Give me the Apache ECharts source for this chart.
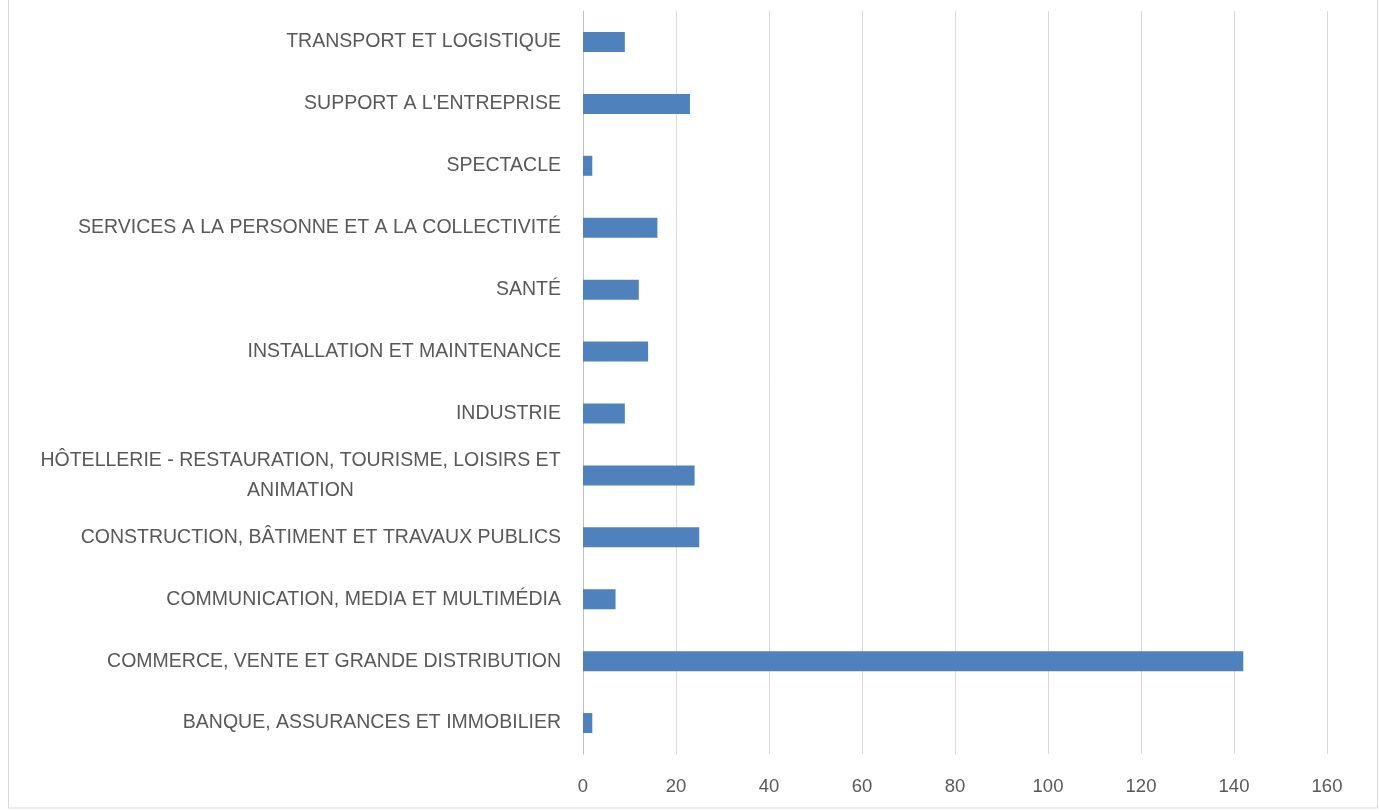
<!DOCTYPE html>
<html>
<head>
<meta charset="utf-8">
<script src="https://cdn.jsdelivr.net/npm/echarts@6/dist/echarts.min.js"></script>
<style>
html, body { margin: 0; padding: 0; background: #fff; }
#chart { width: 1379px; height: 811px; }
</style>
</head>
<body>
<div id="chart"></div>
<script>
// categories, bottom to top as echarts draws them
var categories = [
    'BANQUE, ASSURANCES ET IMMOBILIER',
    'COMMERCE, VENTE ET GRANDE DISTRIBUTION',
    'COMMUNICATION, MEDIA ET MULTIMÉDIA',
    'CONSTRUCTION, BÂTIMENT ET TRAVAUX PUBLICS',
    'HÔTELLERIE - RESTAURATION, TOURISME, LOISIRS ET\nANIMATION',
    'INDUSTRIE',
    'INSTALLATION ET MAINTENANCE',
    'SANTÉ',
    'SERVICES A LA PERSONNE ET A LA COLLECTIVITÉ',
    'SPECTACLE',
    "SUPPORT A L'ENTREPRISE",
    'TRANSPORT ET LOGISTIQUE'
];
var counts = [2, 142, 7, 25, 24, 9, 14, 12, 16, 2, 23, 9];
var xTicks = { min: 0, max: 160, interval: 20 };

var font = '"Liberation Sans", sans-serif';

var myChart = echarts.init(document.getElementById('chart'));
var option = {
    animation: false,
    graphic: [
        {
            type: 'rect',
            shape: { x: 8.5, y: -1, width: 1369, height: 809 },
            style: { fill: 'none', stroke: '#d9d9d9', lineWidth: 1 },
            silent: true
        }
    ],
    grid: {
        left: 583,
        right: 52,
        top: 11,
        bottom: 57
    },
    xAxis: {
        type: 'value',
        min: xTicks.min,
        max: xTicks.max,
        interval: xTicks.interval,
        axisLine: { show: false },
        axisTick: { show: false },
        splitLine: { lineStyle: { color: '#d9d9d9', width: 1 } },
        axisLabel: {
            color: '#595959',
            fontFamily: font,
            fontSize: 18.5,
            margin: 23
        }
    },
    yAxis: {
        type: 'category',
        data: categories,
        axisLine: { show: true, lineStyle: { color: '#bfbfbf', width: 1 } },
        axisTick: { show: false },
        axisLabel: {
            color: '#595959',
            fontFamily: font,
            fontSize: 19.5,
            margin: 22,
            lineHeight: 30,
            formatter: function (v) {
                if (v.indexOf('\n') < 0) return v;
                return v.split('\n').map(function (s) { return '{w|' + s + '}'; }).join('\n');
            },
            rich: {
                w: {
                    width: 521,
                    align: 'center',
                    color: '#595959',
                    fontFamily: font,
                    fontSize: 19.5,
                    lineHeight: 30
                }
            }
        }
    },
    series: [
        {
            name: 'Total',
            type: 'bar',
            data: counts,
            barWidth: 20,
            itemStyle: { color: '#4f81bd' }
        }
    ]
};
myChart.setOption(option);
</script>
</body>
</html>
